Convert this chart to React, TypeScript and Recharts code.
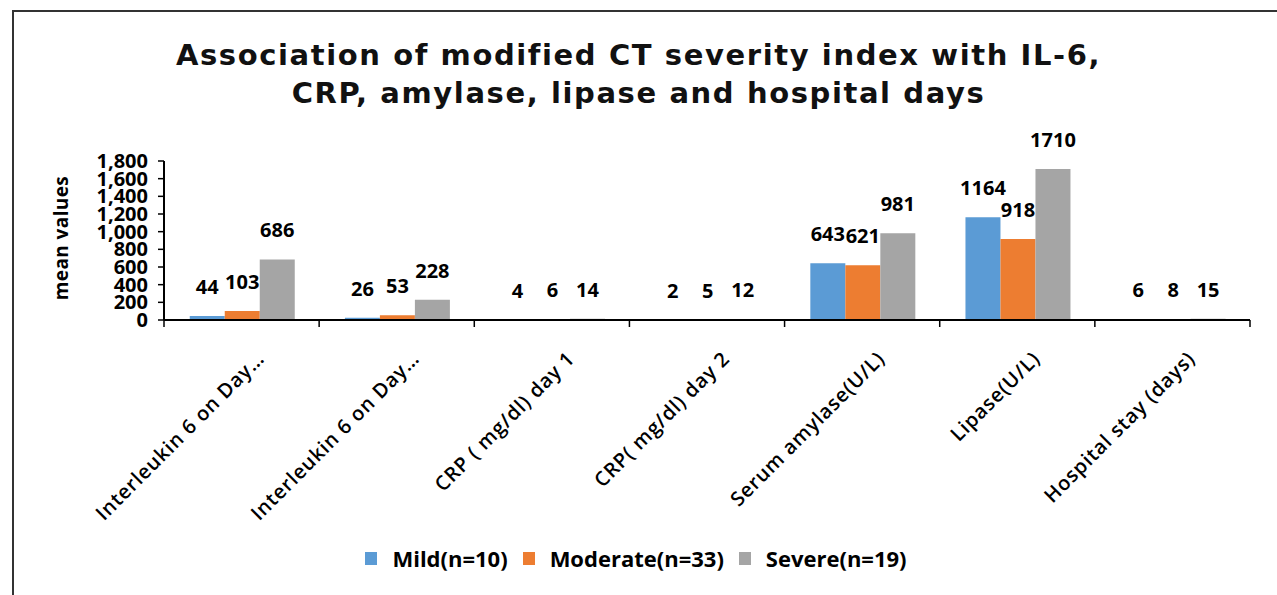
import React from 'react';
import { BarChart, Bar, XAxis, YAxis, LabelList } from 'recharts';

const categories = [
  'Interleukin 6 on Day…',
  'Interleukin 6 on Day…',
  'CRP ( mg/dl) day 1',
  'CRP( mg/dl) day 2',
  'Serum amylase(U/L)',
  'Lipase(U/L)',
  'Hospital stay (days)',
];
const mild = [44, 26, 4, 2, 643, 1164, 6];
const moderate = [103, 53, 6, 5, 621, 918, 8];
const severe = [686, 228, 14, 12, 981, 1710, 15];
const yTicks = [0, 200, 400, 600, 800, 1000, 1200, 1400, 1600, 1800];
const seriesKeys = ['mild', 'moderate', 'severe'];
const seriesNames = ['Mild(n=10)', 'Moderate(n=33)', 'Severe(n=19)'];
const seriesColors = ['#5B9BD5', '#ED7D31', '#A5A5A5'];
const titleLines = [
  'Association of modified CT severity index with IL-6,',
  'CRP, amylase, lipase and hospital days',
];
const yLabel = 'mean values';

const data = categories.map((name, i) => ({
  name,
  mild: mild[i],
  moderate: moderate[i],
  severe: severe[i],
}));

const FONT = '"Open Sans", sans-serif';

const XTick = (props: any) => {
  const { x, y, payload, index, visibleTicksCount } = props;
  const off = payload && typeof payload.offset === 'number' && payload.offset > 0 ? payload.offset : 77.5;
  return (
    <g>
      <line x1={x - off} x2={x - off} y1={y} y2={y + 7} stroke="#000" strokeWidth={1.5} />
      {index === visibleTicksCount - 1 && (
        <line x1={x + off} x2={x + off} y1={y} y2={y + 7} stroke="#000" strokeWidth={1.5} />
      )}
      <text
        transform={`translate(${x + 24},${y + 40}) rotate(-45)`}
        textAnchor="end"
        fontFamily={FONT}
        fontSize={20}
        fontWeight={600}
        letterSpacing={0.8}
        fill="#000"
      >
        {payload.value}
      </text>
    </g>
  );
};

export default function App() {
  return (
    <div
      style={{
        position: 'absolute',
        left: 0,
        top: 0,
        width: 1277,
        height: 595,
        overflow: 'hidden',
        background: '#fff',
      }}
    >
      <div
        style={{
          position: 'absolute',
          left: 12,
          top: 10,
          width: 1400,
          height: 800,
          border: '2px solid #333',
          boxSizing: 'border-box',
        }}
      />
      <div
        style={{
          position: 'absolute',
          left: 0,
          top: 36,
          width: 1277,
          textAlign: 'center',
          fontFamily: '"DejaVu Sans", sans-serif',
          fontWeight: 700,
          fontSize: 29,
          letterSpacing: 1.6,
          lineHeight: '38px',
          color: '#111',
        }}
      >
        {titleLines.map((t, i) => (
          <div key={i}>{t}</div>
        ))}
      </div>
      <div
        style={{
          position: 'absolute',
          left: 61,
          top: 238,
          transform: 'translate(-50%, -50%) rotate(-90deg)',
          fontFamily: FONT,
          fontWeight: 700,
          fontSize: 19,
          letterSpacing: 0.4,
          whiteSpace: 'nowrap',
          color: '#000',
        }}
      >
        {yLabel}
      </div>
      <div style={{ position: 'absolute', left: 0, top: 0 }}>
        <BarChart
          width={1277}
          height={595}
          data={data}
          margin={{ top: 161, right: 27, bottom: 0, left: 0 }}
          barCategoryGap="16.6%"
          barGap={0}
        >
          <XAxis
            dataKey="name"
            height={275}
            interval={0}
            tick={<XTick />}
            tickLine={false}
            tickSize={0}
            tickMargin={0}
            axisLine={{ stroke: '#000', strokeWidth: 2 }}
          />
          <YAxis
            width={164}
            domain={[0, 1800]}
            ticks={yTicks}
            interval={0}
            tickFormatter={(v: number) => v.toLocaleString('en-US')}
            tick={{ fontFamily: FONT, fontSize: 20, fontWeight: 700, fill: '#000' }}
            tickSize={6}
            tickMargin={10}
            tickLine={{ stroke: '#000', strokeWidth: 1.5 }}
            axisLine={{ stroke: '#000', strokeWidth: 2 }}
          />
          {seriesKeys.map((k, i) => (
            <Bar key={k} dataKey={k} name={seriesNames[i]} fill={seriesColors[i]} isAnimationActive={false}>
              <LabelList
                dataKey={k}
                position="top"
                offset={22}
                fontFamily={FONT}
                fontSize={20}
                fontWeight={700}
                fill="#000"
              />
            </Bar>
          ))}
        </BarChart>
      </div>
      <div
        style={{
          position: 'absolute',
          left: 0,
          top: 543,
          width: 1277,
          display: 'flex',
          justifyContent: 'center',
          alignItems: 'center',
          fontFamily: FONT,
          fontWeight: 700,
          fontSize: 22,
          color: '#000',
          paddingLeft: 10,
          boxSizing: 'border-box',
        }}
      >
        {seriesNames.map((n, i) => (
          <div key={n} style={{ display: 'flex', alignItems: 'center', marginRight: 15 }}>
            <span
              style={{
                display: 'inline-block',
                width: 12,
                height: 13,
                background: seriesColors[i],
                marginRight: 15,
              }}
            />
            <span>{n}</span>
          </div>
        ))}
      </div>
    </div>
  );
}
